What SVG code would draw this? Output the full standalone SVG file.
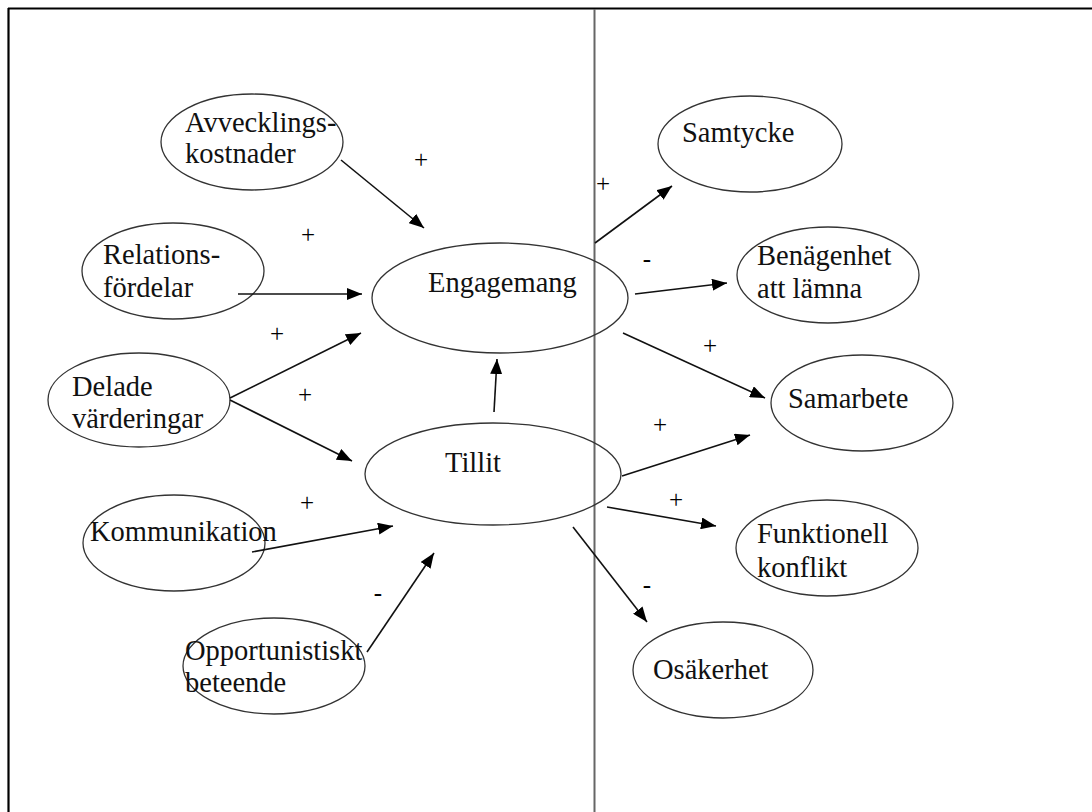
<svg xmlns="http://www.w3.org/2000/svg" width="1092" height="812" viewBox="0 0 1092 812">
<defs>
<marker id="ah" markerUnits="userSpaceOnUse" markerWidth="16" markerHeight="12" refX="15" refY="6" orient="auto">
<path d="M0,0 L15,6 L0,12 z" fill="#000"/>
</marker>
<style>
.n ellipse{fill:none;stroke:#333;stroke-width:1.3}
.n text,.s{font-family:"Liberation Serif","Times New Roman",serif;font-size:28.5px;fill:#111}
.s{font-size:25px;text-anchor:middle;fill:#000}
#connectors line{stroke:#111;stroke-width:1.6;marker-end:url(#ah)}
</style>
</defs>
<rect width="1092" height="812" fill="#fff"/>
<g id="frame">
<line x1="8" y1="8.5" x2="1092" y2="8.5" stroke="#000" stroke-width="2.2"/>
<line x1="8.5" y1="8" x2="8.5" y2="812" stroke="#000" stroke-width="2.2"/>
<line x1="594.5" y1="9" x2="594.5" y2="812" stroke="#666" stroke-width="2"/>
</g>
<g id="avveckling" class="n"><ellipse cx="252" cy="142" rx="91" ry="48"/><text x="185" y="132">Avvecklings-</text><text x="185" y="163">kostnader</text></g>
<g id="relations" class="n"><ellipse cx="173" cy="271" rx="91" ry="48"/><text x="103" y="264">Relations-</text><text x="103" y="297">fördelar</text></g>
<g id="delade" class="n"><ellipse cx="139" cy="400" rx="91" ry="47"/><text x="72" y="396">Delade</text><text x="72" y="428">värderingar</text></g>
<g id="kommunikation" class="n"><ellipse cx="174" cy="543" rx="91" ry="48"/><text x="90" y="541">Kommunikation</text></g>
<g id="opportunism" class="n"><ellipse cx="274" cy="666" rx="91" ry="48"/><text x="185" y="660">Opportunistiskt</text><text x="185" y="692">beteende</text></g>
<g id="engagemang" class="n"><ellipse cx="500" cy="298" rx="128" ry="55"/><text x="428" y="292">Engagemang</text></g>
<g id="tillit" class="n"><ellipse cx="493" cy="474" rx="128" ry="51"/><text x="445" y="472">Tillit</text></g>
<g id="samtycke" class="n"><ellipse cx="750" cy="144" rx="92" ry="48"/><text x="682" y="142">Samtycke</text></g>
<g id="benagenhet" class="n"><ellipse cx="828" cy="275" rx="91" ry="48"/><text x="757" y="265">Benägenhet</text><text x="757" y="298">att lämna</text></g>
<g id="samarbete" class="n"><ellipse cx="862" cy="403" rx="91" ry="48"/><text x="788" y="408">Samarbete</text></g>
<g id="funktionell" class="n"><ellipse cx="827" cy="548" rx="91" ry="48"/><text x="757" y="543">Funktionell</text><text x="757" y="577">konflikt</text></g>
<g id="osakerhet" class="n"><ellipse cx="723" cy="670" rx="90" ry="48"/><text x="653" y="679">Osäkerhet</text></g>
<g id="connectors">
<line x1="341" y1="160" x2="424" y2="228"/>
<line x1="238" y1="294" x2="362" y2="294"/>
<line x1="230" y1="398" x2="361" y2="333"/>
<line x1="230" y1="400" x2="352" y2="461"/>
<line x1="252" y1="552" x2="393" y2="526"/>
<line x1="367" y1="652" x2="434" y2="553"/>
<line x1="494" y1="412" x2="497" y2="359"/>
<line x1="595" y1="243" x2="672" y2="186"/>
<line x1="635" y1="294" x2="727" y2="283"/>
<line x1="623" y1="333" x2="765" y2="398"/>
<line x1="622" y1="476" x2="750" y2="435"/>
<line x1="607" y1="507" x2="716" y2="526"/>
<line x1="573" y1="527" x2="647" y2="622"/>
</g>
<g id="signs">
<text class="s" x="421" y="168">+</text>
<text class="s" x="308" y="243">+</text>
<text class="s" x="277" y="342">+</text>
<text class="s" x="305" y="403">+</text>
<text class="s" x="307" y="511">+</text>
<text class="s" x="378" y="601">-</text>
<text class="s" x="603" y="192">+</text>
<text class="s" x="647" y="267">-</text>
<text class="s" x="710" y="354">+</text>
<text class="s" x="660" y="433">+</text>
<text class="s" x="676" y="508">+</text>
<text class="s" x="647" y="593">-</text>
</g>
</svg>
